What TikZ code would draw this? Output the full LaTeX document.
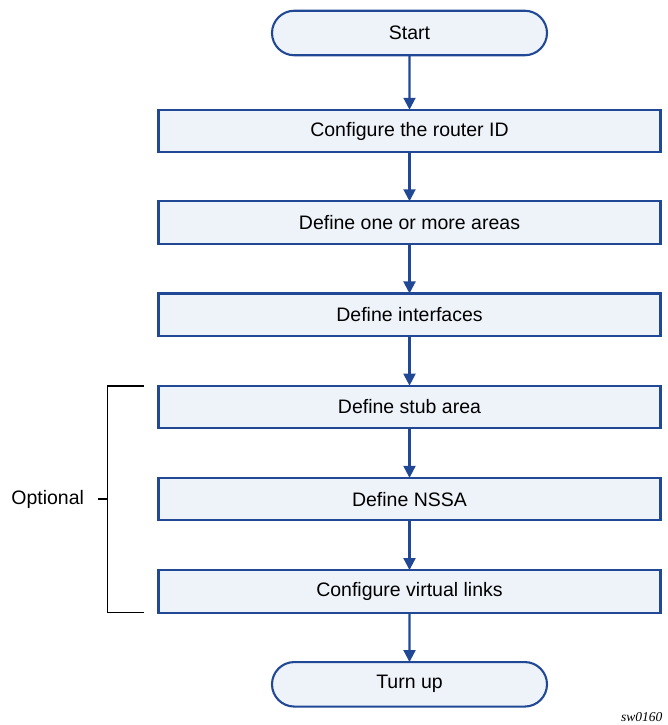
\documentclass[tikz,border=0pt]{standalone}
\usepackage{fontspec}
\setmainfont{Liberation Sans}
\newfontfamily\tagfont{Liberation Serif}
\usetikzlibrary{positioning,arrows.meta,shapes.misc}
\definecolor{flowblue}{RGB}{33,72,148}
\definecolor{flowfill}{RGB}{238,243,250}
\tikzset{
	stepbox/.style = {rectangle, draw = flowblue, fill = flowfill, line width = 2.1pt,
		minimum width = 502pt, minimum height = 42.5pt, inner sep = 0pt, outer sep = 0pt,
		font = \fontsize{19.5}{23}\selectfont},
	termbox/.style = {rounded rectangle, draw = flowblue, fill = flowfill, line width = 2.1pt,
		minimum width = 275pt, minimum height = 44.5pt, inner sep = 0pt, outer sep = 0pt,
		font = \fontsize{19.5}{23}\selectfont},
	flow/.style = {draw = flowblue, line width = 2.1pt, -{Triangle[length=12pt, width=12pt]}}
}

\begin{document}
\begin{tikzpicture}[node distance = 49.7pt]
\useasboundingbox (0,0) rectangle (667pt,-725pt);
\node[termbox] (start) at (409.5pt,-33pt) {Start};
\node[stepbox, below = 54.5pt of start] (rid) {Configure the router ID};
\node[stepbox, below = 49pt of rid] (areas) {Define one or more areas};
\node[stepbox, below = of areas] (ifs) {Define interfaces};
\node[stepbox, below = of ifs] (stub) {Define stub area};
\node[stepbox, below = of stub] (nssa) {Define NSSA};
\node[stepbox, below = of nssa] (vlink) {Configure virtual links};
\node[termbox, below = 49.5pt of vlink] (up) {Turn up};
\foreach \a/\b in {start/rid, rid/areas, areas/ifs, ifs/stub, stub/nssa, nssa/vlink, vlink/up}
	\draw[flow] (\a) -- (\b);
% optional bracket
\coordinate (brtop) at ([xshift=-15pt]stub.north west);
\coordinate (brbot) at ([xshift=-15pt]vlink.south west);
\coordinate (brmid) at ([xshift=-51pt]nssa.west);
\draw[line width = 1.8pt] (brtop) -- ++(-36pt,0) |- (brbot);
\draw[line width = 1.8pt] (brmid) -- ++(-10pt,0) coordinate (tick);
\node[anchor = east, font = \fontsize{19.5}{23}\selectfont] (opt) at ([xshift=-10pt]tick) {Optional};
\node[anchor = base east, font = \tagfont\itshape\fontsize{13.5}{16}\selectfont] (tag) at (666pt,-721pt) {sw0160};
\end{tikzpicture}
\end{document}
